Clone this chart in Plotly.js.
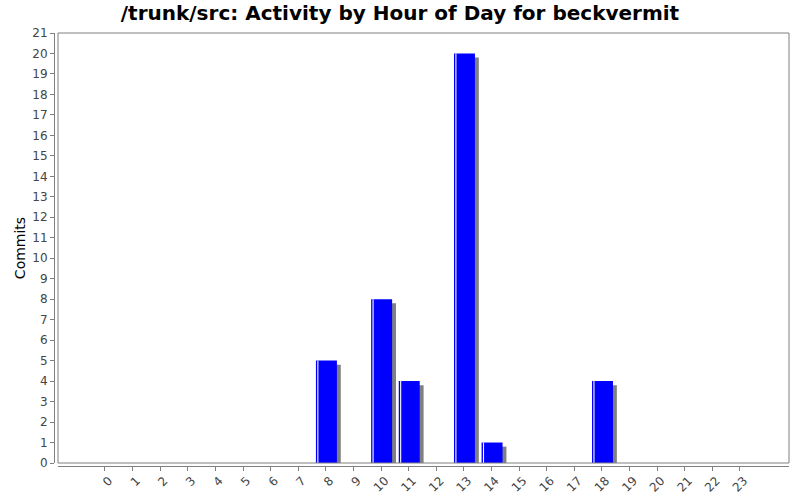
<!DOCTYPE html>
<html>
<head>
<meta charset="utf-8">
<script src="https://cdn.plot.ly/plotly-3.0.1.min.js"></script>
<style>
  html, body { margin: 0; padding: 0; background: #fff; }
  #chart { width: 800px; height: 500px; }
</style>
</head>
<body>
<div id="chart"></div>
<script>
// commits per hour of day
let hours = [0, 1, 2, 3, 4, 5, 6, 7, 8, 9, 10, 11, 12, 13, 14, 15, 16, 17, 18, 19, 20, 21, 22, 23];
let hourLabels = hours.map(h => String(h));
let commits = [0, 0, 0, 0, 0, 0, 0, 0, 5, 0, 8, 4, 0, 20, 1, 0, 0, 0, 4, 0, 0, 0, 0, 0];
let yTicks = [];
for (let i = 0; i <= 21; i++) yTicks.push(i);

let axisGray = '#808080';
let textGray = '#444444';
let font = 'DejaVu Sans, sans-serif';

// gray drop shadow, shifted right and down
let shadow = {
  x: hours, y: commits, type: 'bar',
  width: 0.76, offset: -0.22, base: -0.2,
  marker: {color: '#808080', line: {width: 0}},
  hoverinfo: 'skip'
};
let bars = {
  x: hours, y: commits, type: 'bar',
  width: 0.76, offset: -0.36,
  marker: {color: '#0000ff', line: {width: 0}}
};
// thin white highlight near left edge
let highlight = {
  x: hours, y: commits, type: 'bar',
  width: 0.04, offset: -0.31,
  marker: {color: '#ffffff', line: {width: 0}},
  hoverinfo: 'skip'
};

let layout = {
  width: 800, height: 500,
  margin: {l: 54, r: 11, t: 33, b: 34},
  paper_bgcolor: '#ffffff',
  plot_bgcolor: '#ffffff',
  showlegend: false,
  barmode: 'overlay',
  font: {family: font, color: textGray, size: 12},
  title: {
    text: '<b>/trunk/src: Activity by Hour of Day for beckvermit</b>',
    font: {family: font, size: 20, color: '#000000'},
    xref: 'container', x: 0.5, xanchor: 'center',
    yref: 'container', y: 0.974, yanchor: 'middle'
  },
  xaxis: {
    domain: [4 / 735, 1],
    anchor: 'free', position: 0,
    range: [-1.702, 24.775],
    tickvals: hours, ticktext: hourLabels,
    tickangle: -45,
    ticklabelshift: 4, ticklabelstandoff: -2,
    ticks: 'outside', ticklen: 4, tickcolor: axisGray,
    showline: true, linecolor: axisGray, linewidth: 1,
    showgrid: false, zeroline: false,
    tickfont: {family: font, size: 12, color: textGray}
  },
  yaxis: {
    domain: [3 / 433, 1],
    anchor: 'free', position: 0,
    range: [0, 21],
    tickvals: yTicks,
    ticks: 'outside', ticklen: 4, tickcolor: axisGray,
    showline: true, linecolor: axisGray, linewidth: 1,
    showgrid: false, zeroline: false,
    tickfont: {family: font, size: 12, color: textGray},
    title: {text: 'Commits', font: {family: font, size: 14, color: '#000000'}, standoff: 2}
  },
  shapes: [{
    type: 'rect', xref: 'paper', yref: 'paper',
    x0: 4 / 735, x1: 1, y0: 3 / 433, y1: 1,
    line: {color: axisGray, width: 1}
  }]
};

Plotly.newPlot('chart', [shadow, bars, highlight], layout, {displayModeBar: false, staticPlot: true});
</script>
</body>
</html>
